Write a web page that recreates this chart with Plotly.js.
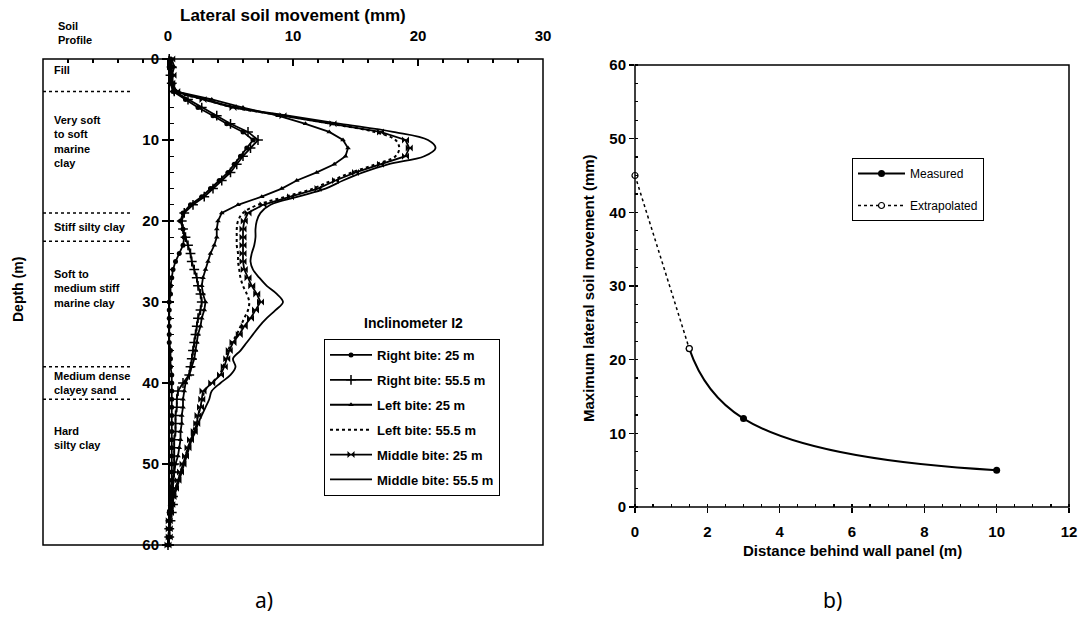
<!DOCTYPE html>
<html>
<head>
<meta charset="utf-8">
<script src="https://cdn.plot.ly/plotly-3.0.1.min.js"></script>
<style>html,body{margin:0;padding:0;background:#fff;}#chart{width:1082px;height:617px;}</style>
</head>
<body>
<div id="chart"></div>
<script>
// ---------- Data: panel a) ----------
const depth = [0,1,2,3,4,5,6,7,8,9,10,11,12,13,14,15,16,17,18,19,20,21,22,23,24,25,26,27,28,29,30,31,32,33,34,35,36,37,38,39,40,41,42,43,44,45,46,47,48,49,50,51,52,53,54,55,56,57,58,59,60];
const rightBite25 = [0.2,0.1,0.3,0.2,0.4,1.4,2.4,3.6,4.7,6.0,
 6.8,6.3,5.8,5.3,4.8,4.1,3.4,2.7,1.8,1.2,
 1.0,1.2,1.3,1.2,0.9,0.6,0.4,0.3,0.2,0.2,
 0.1,0.1,0.1,0.1,0.1,0.1,0.2,0.2,0.2,0.3,
 0.3,0.3,0.3,0.3,0.3,0.3,0.3,0.3,0.3,0.3,
 0.3,0.3,0.3,0.2,0.2,0.2,0.1,0.1,0.1,0.1,
 0.0];
const rightBite55 = [0.1,0.3,0.2,0.3,0.5,1.6,2.7,3.9,5.0,6.4,
 7.2,6.6,6.0,5.5,5.0,4.3,3.6,2.9,2.0,1.3,
 1.1,1.2,1.4,1.6,1.8,1.9,2.1,2.3,2.4,2.6,
 2.7,2.6,2.4,2.3,2.2,2.1,2.0,1.9,1.8,1.7,
 1.2,0.8,0.7,0.7,0.6,0.6,0.6,0.5,0.5,0.5,
 0.5,0.5,0.4,0.4,0.4,0.4,0.3,0.2,0.1,0.1,
 0.0];
const leftBite25 = [0.3,0.5,0.3,0.4,0.6,3.5,6.0,8.8,11.0,12.9,
 14.0,14.4,14.2,13.3,11.9,10.3,9.1,7.5,5.6,4.3,
 4.0,3.9,3.9,3.7,3.4,3.2,3.0,2.8,2.7,2.8,
 3.0,2.9,2.7,2.6,2.4,2.3,2.2,2.1,1.9,1.7,
 1.4,1.3,1.2,1.2,1.1,1.1,1.0,1.0,0.9,0.8,
 0.6,0.5,0.4,0.3,0.3,0.2,0.2,0.1,0.1,0.1,
 0.0];
const leftBite55 = [0.2,0.4,0.3,0.4,0.7,2.9,5.3,9.3,13.0,16.5,
 18.2,18.5,18.2,16.6,14.7,13.1,11.6,9.4,7.2,6.0,
 5.6,5.5,5.5,5.5,5.6,5.6,5.7,5.8,6.0,6.3,
 6.5,6.4,6.1,5.8,5.5,5.1,4.8,4.6,4.4,4.1,
 3.5,2.9,2.8,2.6,2.4,2.2,2.0,1.8,1.6,1.4,
 1.2,1.0,0.8,0.6,0.4,0.3,0.2,0.1,0.1,0.1,
 0.0];
const middleBite25 = [0.3,0.2,0.4,0.3,0.7,2.8,5.2,9.2,13.2,17.0,
 19.0,19.3,19.0,17.0,15.0,13.4,12.0,9.8,7.6,6.4,
 6.1,6.0,6.0,6.0,6.0,6.0,6.1,6.4,6.7,7.1,
 7.4,7.0,6.6,6.1,5.7,5.2,4.9,4.7,4.5,4.2,
 3.5,2.8,2.7,2.6,2.4,2.3,2.1,1.8,1.6,1.4,
 1.2,1.0,0.8,0.6,0.4,0.3,0.2,0.1,0.1,0.1,
 0.0];
const middleBite55 = [0.2,0.3,0.2,0.3,0.8,3.0,5.5,9.6,13.8,18.0,
 20.8,21.4,20.5,17.6,15.6,14.0,12.6,10.4,8.2,7.4,
 7.1,7.0,7.0,6.9,6.7,6.6,6.8,7.3,7.9,8.7,
 9.2,8.6,7.9,7.3,6.8,6.3,5.8,5.2,5.4,5.0,
 4.2,3.5,3.3,3.0,2.7,2.4,2.2,1.9,1.7,1.5,
 1.3,1.1,0.9,0.7,0.5,0.3,0.2,0.1,0.1,0.0,
 0.0];
const seriesNames = ["Right bite: 25 m","Right bite: 55.5 m","Left bite: 25 m","Left bite: 55.5 m","Middle bite: 25 m","Middle bite: 55.5 m"];

// Soil profile
const soilLayers = ["Fill","Very soft<br>to soft<br>marine<br>clay","Stiff silty clay","Soft to<br>medium stiff<br>marine clay","Medium dense<br>clayey sand","Hard<br>silty clay"];
const soilLabelDepth = [1.4,10.2,20.7,28.3,40.0,46.8];
const layerBounds = [4,19,22.5,38,42];

// ---------- Data: panel b) ----------
const measuredDist = [1.5,3,10];
const measuredMove = [21.5,12,5];
const extrapDist = [0,1.5];
const extrapMove = [45,21.5];

// ---------- Layout helpers ----------
const W = 1082, H = 617;
const px = v => v / W;
const py = v => 1 - v / H;
const F = 'Liberation Sans, Arial, sans-serif';
const BLK = '#000';

const common = {xaxis:'x', yaxis:'y', legend:'legend', hoverinfo:'skip', cliponaxis:false};
const traces = [
  Object.assign({x:rightBite25, y:depth, name:seriesNames[0], legendgroup:'g1', mode:'lines+markers',
    line:{color:BLK,width:1.8}, marker:{symbol:'circle',size:5,color:BLK}}, common),
  Object.assign({x:rightBite55, y:depth, name:seriesNames[1], legendgroup:'g2', mode:'lines+markers',
    line:{color:BLK,width:1.8}, marker:{symbol:'cross-thin',size:7,color:BLK,line:{color:BLK,width:1.5}}}, common),
  Object.assign({x:leftBite25, y:depth, name:seriesNames[2], legendgroup:'g3', mode:'lines+markers',
    line:{color:BLK,width:1.8}, marker:{symbol:'triangle-up',size:5,color:BLK}}, common),
  Object.assign({x:leftBite55, y:depth, name:seriesNames[3], legendgroup:'g4', mode:'lines',
    line:{color:BLK,width:2,dash:'dot',shape:'spline'}}, common),
  Object.assign({x:middleBite25, y:depth, name:seriesNames[4], legendgroup:'g5', mode:'lines+markers',
    line:{color:BLK,width:1.8}, marker:{symbol:'bowtie',size:7,color:BLK}}, common),
  Object.assign({x:middleBite55, y:depth, name:seriesNames[5], legendgroup:'g6', mode:'lines',
    line:{color:BLK,width:1.8,shape:'spline'}}, common),
  {x:measuredDist, y:measuredMove, name:'Measured', legendgroup:'m1', legend:'legend2', legendrank:1,
    xaxis:'x2', yaxis:'y2', mode:'lines+markers', hoverinfo:'skip', cliponaxis:false,
    line:{color:BLK,width:2,shape:'spline',smoothing:1.3}, marker:{symbol:'circle',size:7,color:BLK}},
  {x:extrapDist, y:extrapMove, name:'Extrapolated', legendgroup:'m2', legend:'legend2', legendrank:2,
    xaxis:'x2', yaxis:'y2', mode:'lines+markers', hoverinfo:'skip', cliponaxis:false,
    line:{color:BLK,width:1.5,dash:'dot'}, marker:{symbol:'circle',size:6,color:'#fff',line:{color:BLK,width:1.2}}}
];

const tickF = {family:F,size:15,color:BLK,weight:'bold'};

function ann(x, y, text, font, extra) {
  return Object.assign({xref:'paper', yref:'paper', x:px(x), y:py(y), text:text, showarrow:false,
    xanchor:'center', yanchor:'middle', font:font}, extra || {});
}
const annotations = [
  ann(293, 16, 'Lateral soil movement (mm)', {family:F,size:17,color:BLK,weight:'bold'}),
  ann(56, 33, 'Soil<br>Profile', {family:F,size:11,color:BLK,weight:'bold'}, {xanchor:'left', align:'left'}),
  ann(18, 290, 'Depth (m)', {family:F,size:14,color:BLK,weight:'bold'}, {textangle:-90}),
  ann(413, 323, 'Inclinometer I2', {family:F,size:14,color:BLK,weight:'bold'}),
  ann(588, 288, 'Maximum lateral soil movement (mm)', {family:F,size:15,color:BLK,weight:'bold'}, {textangle:-90}),
  ann(852, 550, 'Distance behind wall panel (m)', {family:F,size:15,color:BLK,weight:'bold'}),
  ann(264, 600, 'a)', {family:'Noto Sans, sans-serif',size:21,color:BLK}),
  ann(832, 600, 'b)', {family:'Noto Sans, sans-serif',size:21,color:BLK})
];
soilLayers.forEach((t,i) => annotations.push({
  xref:'x',yref:'y',x:-9.3,y:soilLabelDepth[i],xanchor:'left',yanchor:'middle',align:'left',
  text:t,showarrow:false,font:{family:F,size:11,color:BLK,weight:'bold'}
}));

const shapes = [
  {type:'rect',xref:'x domain',yref:'y domain',x0:0,x1:1,y0:0,y1:1,line:{color:BLK,width:1.5}},
  {type:'rect',xref:'x2 domain',yref:'y2 domain',x0:0,x1:1,y0:0,y1:1,line:{color:BLK,width:1.5}}
];
layerBounds.forEach(d => shapes.push({
  type:'line',xref:'x',yref:'y',x0:-10,x1:-3,y0:d,y1:d,line:{color:BLK,width:1.5,dash:'dot'}
}));

const layout = {
  width:W, height:H, margin:{l:0,r:0,t:0,b:0},
  paper_bgcolor:'#fff', plot_bgcolor:'rgba(0,0,0,0)',
  showlegend:true,
  xaxis:{domain:[px(43),px(543)], range:[-10,30], side:'top', anchor:'y',
    tickmode:'array', tickvals:[0,10,20,30], ticks:'inside', ticklen:7, tickwidth:1.5, tickcolor:BLK,
    minor:{tickmode:'linear',tick0:0,dtick:2,ticks:'inside',ticklen:4,tickwidth:1.2,tickcolor:BLK},
    ticklabelstandoff:14, tickfont:tickF, showgrid:false, zeroline:false, showline:false, automargin:false, fixedrange:true},
  yaxis:{domain:[py(545),py(59)], range:[60,0], anchor:'free', position:px(168),
    tickmode:'linear', tick0:0, dtick:10, ticks:'outside', ticklen:6, tickwidth:1.5, tickcolor:BLK,
    minor:{tickmode:'linear',tick0:0,dtick:2,ticks:'inside',ticklen:4,tickwidth:1.2,tickcolor:BLK},
    showline:true, linecolor:BLK, linewidth:1.5, tickfont:tickF, showgrid:false, zeroline:false, automargin:false, fixedrange:true},
  xaxis2:{domain:[px(635),px(1069)], range:[0,12], anchor:'y2',
    tickmode:'linear', tick0:0, dtick:2, ticks:'outside', ticklen:5, tickwidth:1.5, tickcolor:BLK,
    minor:{tickmode:'linear',tick0:0,dtick:0.5,ticks:'inside',ticklen:3,tickwidth:1.2,tickcolor:BLK},
    ticklabelstandoff:6, tickfont:tickF, showgrid:false, zeroline:false, showline:false, automargin:false, fixedrange:true},
  yaxis2:{domain:[py(507),py(65)], range:[0,60], anchor:'x2',
    tickmode:'linear', tick0:0, dtick:10, ticks:'outside', ticklen:5, tickwidth:1.5, tickcolor:BLK,
    minor:{tickmode:'linear',tick0:0,dtick:2.5,ticks:'inside',ticklen:3,tickwidth:1.2,tickcolor:BLK},
    tickfont:tickF, showgrid:false, zeroline:false, showline:false, automargin:false, fixedrange:true},
  legend:{x:px(324), y:py(339), xanchor:'left', yanchor:'top', bgcolor:'#fff', bordercolor:BLK, borderwidth:1,
    font:{family:F,size:13,color:BLK,weight:'bold'}, tracegroupgap:5, itemwidth:42, traceorder:'grouped'},
  legend2:{x:px(852), y:py(158), xanchor:'left', yanchor:'top', bgcolor:'#fff', bordercolor:BLK, borderwidth:1,
    font:{family:F,size:12,color:BLK}, tracegroupgap:13, itemwidth:47, traceorder:'grouped'},
  annotations:annotations,
  shapes:shapes
};

Plotly.newPlot('chart', traces, layout, {displayModeBar:false, staticPlot:true});
</script>
</body>
</html>
